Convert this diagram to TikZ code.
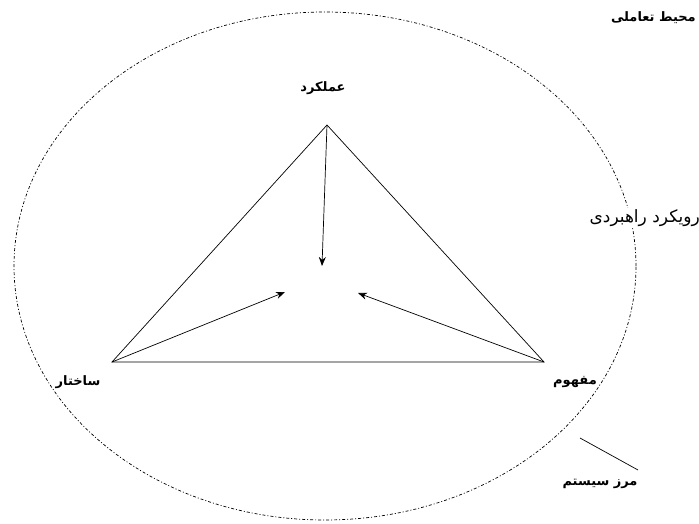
\documentclass[tikz,border=0pt]{standalone}
\usepackage{fontspec}
\newfontfamily\farsi[Script=Arabic]{DejaVu Sans}
\TeXXeTstate=1
\usetikzlibrary{arrows.meta, positioning}

\begin{document}
\begin{tikzpicture}[x=1pt, y=-1pt,
  lbl/.style={font=\farsi\bfseries\fontsize{13}{15}\selectfont, inner sep=1pt},
  lblreg/.style={font=\farsi\fontsize{17}{19}\selectfont, inner sep=1pt, fill=white},
  edge/.style={black, line width=0.7pt},
  arr/.style={black, line width=0.7pt, -{Stealth[length=9pt, width=7pt]}},
  boundary/.style={black, line width=0.7pt, dash pattern=on 3pt off 2pt on 1pt off 2pt}]
  \useasboundingbox (0,0) rectangle (699,524);

  % System boundary
  \draw[boundary] (325,266) ellipse [x radius=311pt, y radius=254pt];

  % Triangle corners
  \coordinate (perf) at (327,125);
  \coordinate (struct) at (112,362);
  \coordinate (concept) at (544,362);
  \draw[edge] (perf) -- (struct) -- (concept) -- cycle;

  % Arrows to the centre
  \coordinate (inP) at (322,266);
  \coordinate (inS) at (285,292);
  \coordinate (inC) at (358,293);
  \draw[arr] (perf) -- (inP);
  \draw[arr] (struct) -- (inS);
  \draw[arr] (concept) -- (inC);

  % Corner labels
  \node[lbl] (perfLbl) at (323,88) {\beginR عملکرد\endR};
  \node[lbl] (structLbl) at (78,382) {\beginR ساختار\endR};
  \node[lbl] (conceptLbl) at (575,382) {\beginR مفهوم\endR};

  % Outer labels
  \node[lbl, anchor=east] (envLbl) at (697,18) {\beginR محیط تعاملی\endR};
  \node[lblreg, anchor=east] (approachLbl) at (701,218) {\beginR رویکرد راهبردی\endR};
  \node[lbl] (edgeLbl) at (600,484) {\beginR مرز سیستم\endR};
  \coordinate (edgeTip) at (580,438);
  \coordinate (edgeEnd) at (638,470);
  \draw[black, line width=0.7pt] (edgeTip) -- (edgeEnd);
\end{tikzpicture}
\end{document}
